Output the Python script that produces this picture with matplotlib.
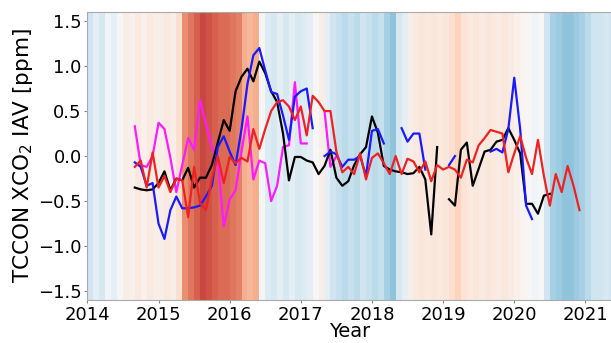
"""TCCON XCO2 interannual variability over ENSO-coloured background stripes."""

import numpy as np
import matplotlib
matplotlib.use("Agg")
import matplotlib.pyplot as plt
from matplotlib.colors import Normalize

nan = np.nan

# background index, one value per month from Jan 2014
enso_index = [
    -0.6, -0.3, -0.5, -0.1, -0.3, 0.0, 0.2, 0.15, 0.3, 0.15, 0.3, 0.2,   # 2014
    0.2, 0.3, 0.2, 0.5, 1.4, 1.6, 1.8, 2.0, 1.9, 1.8, 1.7, 1.7,          # 2015
    1.6, 1.5, 1.1, 1.0, 1.1, 0.0, -0.4, -0.5, -0.3, -0.5, -0.3, -0.5,    # 2016
    -0.4, -0.3, 0.0, 0.2, -0.3, -0.6, -0.7, -0.8, -0.7, -0.8, -0.6, -0.7,  # 2017
    -0.8, -0.7, -1.0, -1.2, -0.5, -0.3, 0.2, 0.3, 0.35, 0.3, 0.35, 0.3,  # 2018
    0.35, 0.5, 0.7, 0.4, 0.3, 0.35, 0.25, 0.35, 0.3, 0.25, 0.35, 0.25,   # 2019
    0.15, 0.05, 0.0, -0.1, 0.0, -0.6, -1.0, -1.1, -1.2, -1.2, -1.1, -1.0,  # 2020
    -0.8, -0.6, -0.6, -0.5, -0.6,                                        # 2021
]

# monthly IAV series, Sep 2014 .. Dec 2020
black = [
    -0.35, -0.37, -0.38, -0.37, -0.30, -0.17, -0.38, -0.25, -0.27, -0.13,
    -0.35, -0.24, -0.24, -0.10, 0.15, 0.40, 0.28, 0.72, 0.88, 0.97,
    0.83, 1.05, 0.92, 0.72, 0.60, 0.25, -0.27, -0.01, -0.01, -0.05,
    -0.07, -0.20, -0.11, 0.07, -0.24, -0.33, -0.28, -0.10, 0.02, 0.10,
    0.44, 0.26, -0.11, -0.15, -0.17, -0.18, -0.20, -0.19, -0.12, -0.26,
    -0.87, 0.10, nan, -0.48, -0.55, 0.07, 0.15, -0.33, -0.14, 0.05,
    0.07, 0.16, 0.18, 0.31, 0.18, 0.03, -0.53, -0.53, -0.64, -0.44,
    -0.42, nan, nan, nan, nan, nan,
]
blue = [
    -0.07, -0.12, -0.33, -0.30, -0.75, -0.92, -0.60, -0.45, -0.58, -0.58,
    -0.57, -0.55, -0.45, -0.33, 0.10, 0.22, 0.05, -0.10, 0.30, 0.80,
    1.12, 1.20, 0.95, 0.71, 0.69, 0.45, 0.18, 0.66, 0.72, 0.75,
    0.31, nan, 0.00, 0.05, 0.02, -0.12, -0.04, -0.04, 0.00, -0.22,
    0.28, 0.30, 0.14, nan, nan, 0.31, 0.16, 0.25, 0.25, -0.15,
    nan, nan, nan, -0.10, 0.00, nan, nan, nan, nan, nan,
    0.05, 0.08, 0.04, 0.30, 0.87, 0.30, -0.55, -0.70, nan, nan,
    nan, nan, nan, nan, nan, nan,
]
red = [
    -0.12, -0.05, -0.35, 0.04, -0.35, -0.22, -0.40, -0.25, -0.27, -0.68,
    -0.12, -0.52, -0.60, -0.25, 0.00, -0.30, -0.01, -0.08, -0.02, -0.06,
    0.30, 0.08, 0.30, 0.50, 0.60, 0.62, 0.55, 0.40, 0.55, 0.23,
    0.67, 0.60, 0.50, 0.50, 0.05, -0.18, -0.12, -0.20, 0.03, -0.26,
    -0.02, 0.03, -0.08, -0.20, 0.00, -0.20, -0.03, -0.06, -0.18, -0.06,
    -0.28, -0.10, -0.15, -0.12, -0.15, -0.24, -0.04, -0.07, 0.12, 0.20,
    0.29, 0.27, 0.25, -0.18, 0.03, 0.22, -0.02, -0.20, 0.18, -0.22,
    -0.55, -0.20, -0.40, -0.11, -0.33, -0.60,
]
magenta = [
    0.33, -0.10, -0.12, 0.00, 0.37, 0.30, -0.02, -0.40, -0.10, 0.20,
    0.07, 0.62, 0.35, 0.10, -0.05, -0.78, -0.48, -0.38, 0.05, 0.44,
    -0.26, -0.05, -0.08, -0.50, -0.33, 0.10, 0.12, 0.82, 0.14, 0.14,
    nan, nan, 0.50, -0.12, 0.00, nan, nan, nan, nan, nan,
    nan, nan, nan, nan, nan, nan, nan, nan, nan, nan,
    nan, nan, nan, nan, nan, nan, nan, nan, nan, nan,
    nan, nan, nan, nan, nan, nan, nan, nan, nan, nan,
    nan, nan, nan, nan, nan, nan,
]

stripe_t = 2014 + np.arange(len(enso_index)) / 12
series_t = 2014 + 8 / 12 + np.arange(len(red)) / 12

plt.rcParams["font.family"] = "DejaVu Sans"
fig = plt.figure(figsize=(6.11, 3.43), dpi=100)
ax = fig.add_axes([0.143, 0.125, 0.857, 0.84])

ylo, yhi = -1.6, 1.6
cmap = plt.get_cmap("RdBu_r")
norm = Normalize(vmin=-3, vmax=3)
ax.bar(stripe_t, yhi - ylo, bottom=ylo, width=1 / 12, align="edge",
       color=cmap(norm(np.array(enso_index))), linewidth=0, zorder=0)

for vals, col in [(magenta, "#ff1aff"), (black, "black"),
                  (blue, "#1a1aff"), (red, "#ee2222")]:
    ax.plot(series_t, vals, color=col, lw=1.6, zorder=2)

ax.set_xlim(2014, 2021.36)
ax.set_ylim(ylo, yhi)
ax.set_xticks(range(2014, 2022))
ax.set_yticks([-1.5, -1.0, -0.5, 0.0, 0.5, 1.0, 1.5])
ax.tick_params(labelsize=13, length=2, color="#888888", pad=2)
ax.set_xlabel("Year", fontsize=14, labelpad=-1)
ax.set_ylabel(r"TCCON XCO$_2$ IAV [ppm]", fontsize=15.5, labelpad=2)
for s in ax.spines.values():
    s.set_color("#aaaaaa")
    s.set_linewidth(0.8)

fig.savefig("out.png", dpi=100)
